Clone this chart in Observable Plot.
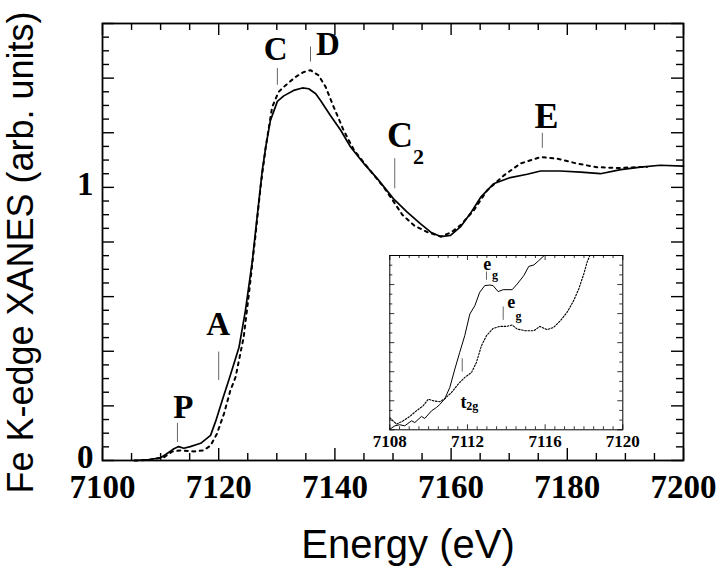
<!DOCTYPE html>
<html><head><meta charset="utf-8">
<script src="https://cdn.jsdelivr.net/npm/d3@7"></script>
<script src="https://cdn.jsdelivr.net/npm/@observablehq/plot@0.6"></script>
<style>
html,body{margin:0;padding:0;background:#fff;}
#wrap{position:relative;width:720px;height:569px;overflow:hidden;background:#fff;}
#wrap svg{position:absolute;display:block;}
</style></head><body><div id="wrap"></div>
<script>
// ---------- data ----------
const solidE = [7105.5, 7108, 7110, 7111, 7112.3, 7113.1, 7114, 7115.1, 7116.9, 7118.6, 7119.5, 7120.6, 7121.8, 7123.5, 7124.6, 7125.8, 7126.5, 7127.5, 7128.1, 7128.9, 7130.1, 7131.2, 7132.9, 7134.4, 7135.5, 7136.7, 7137.5, 7139.2, 7141, 7142.7, 7145, 7147.3, 7150.1, 7152.4, 7154.7, 7156.5, 7158.2, 7159.9, 7161.6, 7163.3, 7165.1, 7167.3, 7170.2, 7173.1, 7175.4, 7178.8, 7182.3, 7185.7, 7189.2, 7192.6, 7196, 7200];
const solidV = [0, 0.003, 0.01, 0.024, 0.043, 0.051, 0.045, 0.051, 0.063, 0.092, 0.145, 0.22, 0.298, 0.415, 0.549, 0.733, 0.87, 1.062, 1.148, 1.245, 1.315, 1.335, 1.355, 1.364, 1.361, 1.343, 1.319, 1.264, 1.209, 1.148, 1.087, 1.032, 0.958, 0.91, 0.867, 0.836, 0.82, 0.824, 0.855, 0.904, 0.964, 1.013, 1.036, 1.048, 1.06, 1.06, 1.056, 1.05, 1.065, 1.074, 1.081, 1.078];

const dottedE = [7105.5, 7108, 7110.6, 7112, 7113.4, 7115.7, 7117.4, 7118.6, 7119.7, 7120.9, 7122, 7122.9, 7124.3, 7125.2, 7126.3, 7127.2, 7128.1, 7129.2, 7130.3, 7131.2, 7133.2, 7134.6, 7135.8, 7137.2, 7138.4, 7139.8, 7141.5, 7143.3, 7145.6, 7148.4, 7150.2, 7151.6, 7153.6, 7155.9, 7158.2, 7160, 7161.6, 7163.9, 7166.2, 7169.1, 7171.9, 7175.4, 7178.3, 7181.7, 7185.1, 7188.6, 7192, 7193.7];
const dottedV = [0, 0.002, 0.012, 0.033, 0.037, 0.033, 0.037, 0.055, 0.098, 0.171, 0.256, 0.305, 0.452, 0.61, 0.818, 1.001, 1.148, 1.294, 1.349, 1.368, 1.404, 1.422, 1.429, 1.41, 1.368, 1.294, 1.209, 1.136, 1.074, 1.001, 0.945, 0.9, 0.861, 0.836, 0.82, 0.835, 0.861, 0.916, 0.989, 1.044, 1.087, 1.111, 1.105, 1.087, 1.074, 1.071, 1.074, 1.075];

const insetSolidE = [7108.0, 7108.26, 7108.51, 7108.77, 7109.12, 7109.29, 7109.63, 7109.8, 7110.15, 7110.4, 7110.57, 7110.83, 7111.09, 7111.35, 7111.6, 7111.86, 7112.12, 7112.38, 7112.63, 7112.89, 7113.15, 7113.32, 7113.58, 7113.84, 7114.3, 7114.56, 7114.9, 7115.16, 7115.42, 7115.67, 7115.98];
const insetSolidU = [0.06, 0.41, 0.52, 0.41, 0.93, 0.75, 1.38, 1.17, 1.96, 2.3, 2.6, 3.2, 4.37, 6.27, 7.99, 9.72, 11.95, 12.82, 14.2, 14.89, 14.95, 14.89, 14.27, 14.47, 14.47, 15.05, 15.92, 16.88, 17.02, 17.47, 18.05];

const insetDottedE = [7108.0, 7108.35, 7108.69, 7109.03, 7109.37, 7109.72, 7109.98, 7110.23, 7110.57, 7110.83, 7111.18, 7111.52, 7111.86, 7112.21, 7112.46, 7112.72, 7112.98, 7113.32, 7113.66, 7114.01, 7114.3, 7114.56, 7114.99, 7115.42, 7115.73, 7116.1, 7116.44, 7116.79, 7117.13, 7117.47, 7117.73, 7117.99, 7118.16, 7118.33];
const insetDottedU = [1.24, 0.58, 0.93, 1.38, 1.96, 2.48, 3.16, 3.0, 2.9, 3.2, 3.86, 4.72, 5.41, 5.92, 6.96, 8.68, 9.72, 10.47, 10.68, 10.68, 10.82, 10.4, 10.23, 10.23, 10.68, 10.34, 10.58, 11.27, 12.13, 13.34, 14.54, 16.09, 17.3, 18.16];

// tick labels & titles
const xTickLabels = [7100, 7120, 7140, 7160, 7180, 7200];
const yTickLabels = [0, 1];
const insetXTickLabels = [7108, 7112, 7116, 7120];
const xTitle = "Energy (eV)";
const yTitle = "Fe K-edge XANES (arb. units)";

// feature annotations in the main panel
const featText = ["P", "A", "C", "D", "C", "E"];
const featE    = [7113.9, 7119.9, 7129.8, 7138.8, 7151.2, 7176.4];
const featV    = [0.154, 0.458, 1.468, 1.484, 1.148, 1.216];
const featSize = [33, 33, 33, 33, 36, 36];
const subText = ["2"];
const subE = [7154.4];
const subV = [1.085];
const markE  = [7112.9, 7120.0, 7130.1, 7135.8, 7150.3, 7175.7];
const markV1 = [0.066, 0.293, 1.374, 1.459, 0.995, 1.143];
const markV2 = [0.136, 0.397, 1.435, 1.514, 1.105, 1.198];

// annotations in the inset
const inText = ["e", "e", "t"];
const inE = [7113.02, 7114.26, 7111.79];
const inU = [16.47, 12.54, 2.2];
const inSubText = ["g", "g", "2g"];
const inSubE = [7113.42, 7114.63, 7112.25];
const inSubU = [15.54, 11.37, 2.0];
const inMarkE = [7112.98, 7113.84, 7111.73];
const inMarkU1 = [15.44, 11.3, 5.96];
const inMarkU2 = [16.29, 12.68, 7.34];

// ---------- build tables ----------
const zip = (a, b) => a.map((v, i) => ({E: v, V: b[i]}));
const solid = zip(solidE, solidV);
const dotted = zip(dottedE, dottedV);
const inSolid = zip(insetSolidE, insetSolidU);
const inDotted = zip(insetDottedE, insetDottedU);
const feats = featText.map((t, i) => ({t, E: featE[i], V: featV[i], s: featSize[i]}));
const subs = subText.map((t, i) => ({t, E: subE[i], V: subV[i]}));
const marks = markE.map((e, i) => ({E: e, V1: markV1[i], V2: markV2[i]}));
const inLabs = inText.map((t, i) => ({t, E: inE[i], V: inU[i]}));
const inSubs = inSubText.map((t, i) => ({t, E: inSubE[i], V: inSubU[i]}));
const inMarks = inMarkE.map((e, i) => ({E: e, V1: inMarkU1[i], V2: inMarkU2[i]}));

const SERIF = "Liberation Serif, Times New Roman, serif";
const SANS = "Liberation Sans, Arial, Helvetica, sans-serif";

// inward tick helper (lengths in px converted to data units)
function inwardTicks(xDom, yDom, fw, fh, xMajor, xMinor, yMajor, yMinor, majLen, minLen, sw) {
  const ex = (xDom[1] - xDom[0]) / fw, ey = (yDom[1] - yDom[0]) / fh;
  const out = [];
  for (const [vals, L] of [[xMajor, majLen], [xMinor, minLen]]) {
    out.push(Plot.ruleX(vals, {x: d => d, y1: yDom[0], y2: yDom[0] + L * ey, stroke: "black", strokeWidth: sw}));
    out.push(Plot.ruleX(vals, {x: d => d, y1: yDom[1] - L * ey, y2: yDom[1], stroke: "black", strokeWidth: sw}));
  }
  for (const [vals, L] of [[yMajor, majLen], [yMinor, minLen]]) {
    out.push(Plot.ruleY(vals, {y: d => d, x1: xDom[0], x2: xDom[0] + L * ex, stroke: "black", strokeWidth: sw}));
    out.push(Plot.ruleY(vals, {y: d => d, x1: xDom[1] - L * ex, x2: xDom[1], stroke: "black", strokeWidth: sw}));
  }
  return out;
}

// ---------- main chart ----------
const W = 720, H = 569, mL = 102, mR = 37, mT = 23, mB = 109;
const xDom = [7100, 7200], yDom = [0, 1.6];
const xMajor = d3.range(0, 6).map(i => 7100 + i * 20);
const xMinor = d3.range(0, 21).map(i => 7100 + i * 5).filter(v => (v - 7100) % 20 !== 0);
const yMajor = d3.range(0, 9).map(i => +(i * 0.2).toFixed(2));
const yMinor = d3.range(0, 33).map(i => +(i * 0.05).toFixed(2)).filter((v, i) => i % 4 !== 0);

const main = Plot.plot({
  width: W, height: H,
  marginLeft: mL, marginRight: mR, marginTop: mT, marginBottom: mB,
  style: {background: "white", overflow: "visible"},
  x: {domain: xDom, axis: null},
  y: {domain: yDom, axis: null},
  marks: [
    ...inwardTicks(xDom, yDom, W - mL - mR, H - mT - mB, xMajor, xMinor, yMajor, yMinor, 12, 7, 1.4),
    Plot.frame({stroke: "black", strokeWidth: 1.8}),
    Plot.ruleX(marks, {x: "E", y1: "V1", y2: "V2", stroke: "#666", strokeWidth: 1}),
    Plot.line(dotted, {x: "E", y: "V", stroke: "black", strokeWidth: 2, strokeDasharray: "3,4.5"}),
    Plot.line(solid, {x: "E", y: "V", stroke: "black", strokeWidth: 1.7}),
    Plot.text(feats, {x: "E", y: "V", text: "t", fontSize: d => d.s, fontWeight: "bold", fontFamily: SERIF, textAnchor: "middle", lineAnchor: "bottom", fill: "black"}),
    Plot.text(subs, {x: "E", y: "V", text: "t", fontSize: 22, fontWeight: "bold", fontFamily: SERIF, textAnchor: "middle", lineAnchor: "bottom", fill: "black"}),
    Plot.text(xTickLabels, {x: d => d, y: d => 0, text: d => String(d), dy: 37, fontSize: 33, fontWeight: "bold", fontFamily: SERIF, textAnchor: "middle", lineAnchor: "bottom", fill: "black"}),
    Plot.text(yTickLabels, {x: d => 7100, y: d => d, text: d => String(d), dx: -9, dy: -3, fontSize: 33, fontWeight: "bold", fontFamily: SERIF, textAnchor: "end", lineAnchor: "middle", fill: "black"}),
    Plot.text([xTitle], {frameAnchor: "bottom", text: d => d, dy: 97, dx: 15, fontSize: 40, fontFamily: SANS, textAnchor: "middle", lineAnchor: "bottom", fill: "black"}),
    Plot.text([yTitle], {frameAnchor: "left", text: d => d, rotate: -90, dx: -70, dy: 10.5, fontSize: 36, fontFamily: SANS, textAnchor: "middle", lineAnchor: "bottom", fill: "black"})
  ]
});
main.style.left = "0px"; main.style.top = "0px";
document.getElementById("wrap").appendChild(main);

// ---------- inset ----------
const iW = 270, iH = 205, imL = 19.3, imR = 17.7, imT = 10, imB = 20.7;
const ixDom = [7108, 7120], iyDom = [0, 18];
const ixMajor = insetXTickLabels.slice();
const ixMinor = d3.range(0, 25).map(i => 7108 + i * 0.5).filter(v => (v - 7108) % 4 !== 0);
const iyMajor = d3.range(0, 7).map(i => i * 3);
const iyMinor = d3.range(0, 19).filter(v => v % 3 !== 0);

const inset = Plot.plot({
  width: iW, height: iH,
  marginLeft: imL, marginRight: imR, marginTop: imT, marginBottom: imB,
  style: {background: "transparent", overflow: "visible"},
  x: {domain: ixDom, axis: null},
  y: {domain: iyDom, axis: null},
  marks: [
    ...inwardTicks(ixDom, iyDom, iW - imL - imR, iH - imT - imB, ixMajor, ixMinor, iyMajor, iyMinor, 5, 3, 0.8),
    Plot.frame({stroke: "black", strokeWidth: 1}),
    Plot.ruleX(inMarks, {x: "E", y1: "V1", y2: "V2", stroke: "#666", strokeWidth: 1}),
    Plot.line(inDotted, {x: "E", y: "V", stroke: "black", strokeWidth: 1.1, strokeDasharray: "1.6,1.6", clip: true}),
    Plot.line(inSolid, {x: "E", y: "V", stroke: "black", strokeWidth: 1, clip: true}),
    Plot.text(inLabs, {x: "E", y: "V", text: "t", fontSize: 18, fontWeight: "bold", fontFamily: SERIF, textAnchor: "middle", lineAnchor: "bottom", fill: "black"}),
    Plot.text(inSubs, {x: "E", y: "V", text: "t", fontSize: 12, fontWeight: "bold", fontFamily: SERIF, textAnchor: "middle", lineAnchor: "bottom", fill: "black"}),
    Plot.text(insetXTickLabels, {x: d => d, y: d => 0, text: d => String(d), dy: 17.4, fontSize: 17, fontWeight: "bold", fontFamily: SERIF, textAnchor: "middle", lineAnchor: "bottom", fill: "black"})
  ]
});
inset.style.left = "370px"; inset.style.top = "245px";
document.getElementById("wrap").appendChild(inset);
</script>
</body></html>
